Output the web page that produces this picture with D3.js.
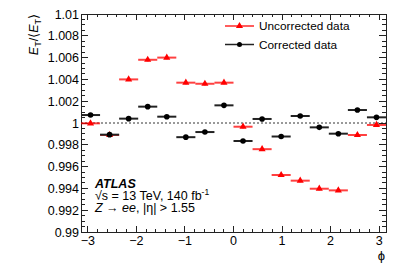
<!DOCTYPE html>
<html>
<head>
<meta charset="utf-8">
<script src="https://cdn.jsdelivr.net/npm/d3@7"></script>
<style>
  body { margin: 0; background: #fff; }
  svg { display: block; font-family: "Liberation Sans", Arial, sans-serif; }
</style>
</head>
<body>
<svg id="paper"></svg>
<script>
// phi bins: 16 equal bins over [-pi, pi]
let nBins = 16;
let binEdges = d3.range(nBins + 1).map(i => -Math.PI + i * 2 * Math.PI / nBins);

// E_T / <E_T> per phi bin
let uncorrected = [0.99997, 0.9989, 1.0040, 1.0058, 1.0060, 1.0037, 1.0036, 1.0037,
                   0.99966, 0.99760, 0.99523, 0.99471, 0.99397, 0.99382, 0.99890, 0.99982];
let uncorrectedErr = [0.00015, 0.00015, 0.00015, 0.00015, 0.00015, 0.00015, 0.00015, 0.00015,
                      0.00015, 0.00015, 0.00015, 0.00015, 0.00015, 0.00015, 0.00015, 0.00015];
let corrected = [1.00073, 0.99893, 1.0004, 1.0015, 1.00058, 0.99870, 0.99917, 1.00162,
                 0.99835, 1.00037, 0.99876, 1.00064, 0.9996, 0.99902, 1.00119, 1.00052];
let correctedErr = [0.00015, 0.00015, 0.00015, 0.00015, 0.00015, 0.00015, 0.00015, 0.00015,
                    0.00015, 0.00015, 0.00015, 0.00015, 0.00015, 0.00015, 0.00015, 0.00015];

let xTicks = [-3, -2, -1, 0, 1, 2, 3];
let yTicks = [0.99, 0.992, 0.994, 0.996, 0.998, 1, 1.002, 1.004, 1.006, 1.008, 1.01];
let seriesNames = ["Uncorrected data", "Corrected data"];

// set the dimensions of the frame
let W = 407, H = 277;
let frame = {left: 81, right: 386, top: 14, bottom: 232};

let svg = d3.select("#paper").attr("width", W).attr("height", H);

let x = d3.scaleLinear().domain([-Math.PI, Math.PI]).range([frame.left, frame.right]);
let y = d3.scaleLinear().domain([0.99, 1.01]).range([frame.bottom, frame.top]);

let axisColor = "#222";

// minor ticks
let xMinor = d3.range(-3.2, 3.21, 0.2).map(v => +v.toFixed(1)).filter(v => Math.abs(v) <= Math.PI);
let yMinor = d3.range(0, 41).map(i => 0.99 + i * 0.0005);

function tickLines(g, vals, isMajor, orient) {
    let len = isMajor ? 7 : 4;
    g.selectAll(null).data(vals).enter().append("line")
        .attr("stroke", axisColor).attr("stroke-width", 1)
        .each(function (v) {
            let s = d3.select(this);
            if (orient === "left") s.attr("x1", frame.left).attr("x2", frame.left + len).attr("y1", y(v)).attr("y2", y(v));
            if (orient === "right") s.attr("x1", frame.right).attr("x2", frame.right - len).attr("y1", y(v)).attr("y2", y(v));
            if (orient === "bottom") s.attr("y1", frame.bottom).attr("y2", frame.bottom - (isMajor ? 6 : 3)).attr("x1", x(v)).attr("x2", x(v));
            if (orient === "top") s.attr("y1", frame.top).attr("y2", frame.top + (isMajor ? 6 : 3)).attr("x1", x(v)).attr("x2", x(v));
        });
}

let axes = svg.append("g").attr("shape-rendering", "crispEdges");
let yMinorOnly = yMinor.filter(v => !yTicks.some(t => Math.abs(t - v) < 1e-9));
let xMinorOnly = xMinor.filter(v => !xTicks.includes(v));
["left", "right"].forEach(o => { tickLines(axes, yTicks, true, o); tickLines(axes, yMinorOnly, false, o); });
["bottom", "top"].forEach(o => { tickLines(axes, xTicks, true, o); tickLines(axes, xMinorOnly, false, o); });

axes.append("rect")
    .attr("x", frame.left).attr("y", frame.top)
    .attr("width", frame.right - frame.left).attr("height", frame.bottom - frame.top)
    .attr("fill", "none").attr("stroke", axisColor).attr("stroke-width", 1);

// tick labels
svg.append("g").selectAll("text").data(yTicks).enter().append("text")
    .attr("x", frame.left - 2).attr("y", d => y(d)).attr("dy", "0.36em")
    .attr("text-anchor", "end").attr("font-size", 12.5)
    .text(d => String(+d.toFixed(3)));

svg.append("g").selectAll("text").data(xTicks).enter().append("text")
    .attr("x", d => x(d)).attr("y", 245)
    .attr("text-anchor", "middle").attr("font-size", 12.5)
    .text(d => d < 0 ? "\u2212" + Math.abs(d) : String(d));

// axis titles
svg.append("text").attr("x", frame.right - 1).attr("y", 260)
    .attr("text-anchor", "end").attr("font-size", 13).text("\u03d5");

let yTitle = svg.append("text")
    .attr("transform", "translate(38," + frame.top + ") rotate(-90)")
    .attr("text-anchor", "end").attr("font-size", 12.5).attr("font-style", "italic");
yTitle.append("tspan").text("E");
yTitle.append("tspan").attr("font-size", 9).attr("dy", 3).attr("font-style", "normal").text("T");
yTitle.append("tspan").attr("dy", -3).attr("font-style", "normal").text("/\u27e8");
yTitle.append("tspan").text("E");
yTitle.append("tspan").attr("font-size", 9).attr("dy", 3).attr("font-style", "normal").text("T");
yTitle.append("tspan").attr("dy", -3).attr("font-style", "normal").text("\u27e9");

// reference line at 1
svg.append("line")
    .attr("x1", frame.left).attr("x2", frame.right)
    .attr("y1", y(1)).attr("y2", y(1))
    .attr("stroke", "#000").attr("stroke-width", 0.8)
    .attr("stroke-dasharray", "2,2");

let tri = d3.symbol().type(d3.symbolTriangle).size(22);

function drawSeries(vals, errs, lineColor, markColor, marker) {
    let g = svg.append("g");
    let pts = vals.map((v, i) => ({v: v, e: errs[i], x0: binEdges[i], x1: binEdges[i + 1], xc: (binEdges[i] + binEdges[i + 1]) / 2}));
    g.selectAll(".h").data(pts).enter().append("line")
        .attr("x1", d => x(d.x0)).attr("x2", d => x(d.x1))
        .attr("y1", d => y(d.v)).attr("y2", d => y(d.v))
        .attr("stroke", lineColor).attr("stroke-width", 2);
    g.selectAll(".v").data(pts).enter().append("line")
        .attr("x1", d => x(d.xc)).attr("x2", d => x(d.xc))
        .attr("y1", d => y(d.v - d.e)).attr("y2", d => y(d.v + d.e))
        .attr("stroke", lineColor).attr("stroke-width", 2);
    if (marker === "circle") {
        g.selectAll("circle").data(pts).enter().append("circle")
            .attr("cx", d => x(d.xc)).attr("cy", d => y(d.v)).attr("r", 2.8)
            .attr("fill", markColor);
    } else {
        g.selectAll("path").data(pts).enter().append("path")
            .attr("d", tri).attr("transform", d => "translate(" + x(d.xc) + "," + y(d.v) + ")")
            .attr("fill", markColor);
    }
}

drawSeries(uncorrected, uncorrectedErr, "rgba(255,0,0,0.75)", "#f00", "triangle");
drawSeries(corrected, correctedErr, "#222", "#000", "circle");

// legend
let legend = svg.append("g");
let legendRows = [
    {name: seriesNames[0], line: "rgba(255,0,0,0.85)", mark: "#f00", marker: "triangle", y: 26},
    {name: seriesNames[1], line: "#222", mark: "#000", marker: "circle", y: 44.5}
];
legendRows.forEach(r => {
    legend.append("line").attr("x1", 225).attr("x2", 254).attr("y1", r.y).attr("y2", r.y)
        .attr("stroke", r.line).attr("stroke-width", 1.5);
    if (r.marker === "circle") {
        legend.append("circle").attr("cx", 239.5).attr("cy", r.y).attr("r", 2.5).attr("fill", r.mark);
    } else {
        legend.append("path").attr("d", tri).attr("transform", "translate(239.5," + r.y + ")").attr("fill", r.mark);
    }
    legend.append("text").attr("x", 259).attr("y", r.y).attr("dy", "0.36em")
        .attr("font-size", 11.8).text(r.name);
});

// ATLAS label
let label = svg.append("g").attr("font-size", 12.5);
label.append("text").attr("x", 95).attr("y", 187.5)
    .attr("font-weight", "bold").attr("font-style", "italic").text("ATLAS");
let l2 = label.append("text").attr("x", 95).attr("y", 199.5);
l2.append("tspan").text("\u221as = 13 TeV, 140 fb");
l2.append("tspan").attr("font-size", 8.5).attr("dy", -4.5).text("-1");
let l3 = label.append("text").attr("x", 95).attr("y", 211.5);
l3.append("tspan").attr("font-style", "italic").text("Z");
l3.append("tspan").text(" \u2192 ");
l3.append("tspan").attr("font-style", "italic").text("ee");
l3.append("tspan").text(", |\u03b7| > 1.55");
</script>
</body>
</html>
